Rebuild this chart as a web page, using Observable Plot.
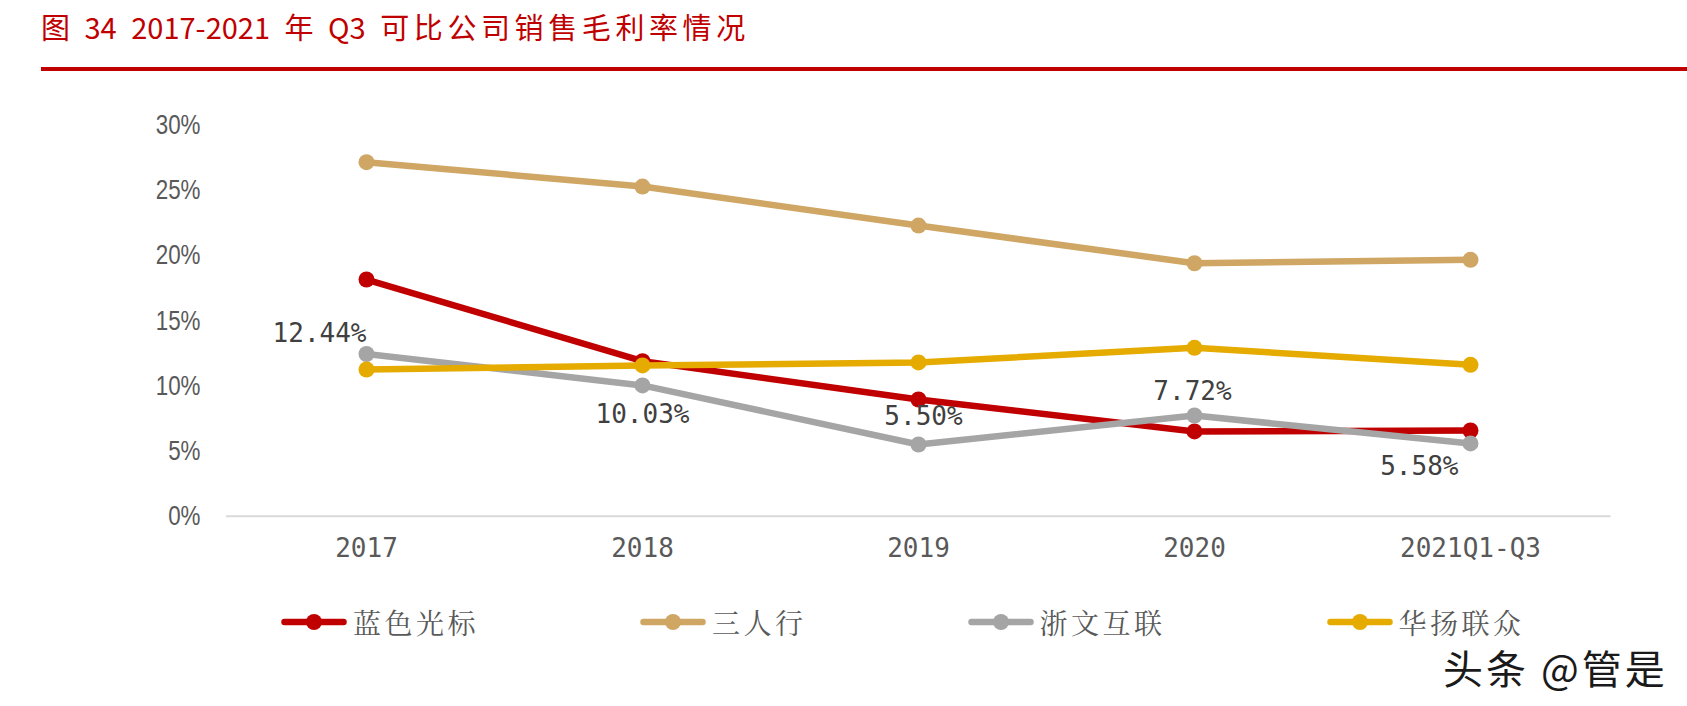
<!DOCTYPE html>
<html>
<head>
<meta charset="utf-8">
<script src="https://cdn.jsdelivr.net/npm/d3@7"></script>
<script src="https://cdn.jsdelivr.net/npm/@observablehq/plot@0.6"></script>
<style>
  html, body { margin: 0; padding: 0; background: #fff; }
  body { width: 1687px; height: 706px; overflow: hidden; position: relative; font-family: "Noto Sans CJK SC", sans-serif; }
  #chart { position: absolute; left: 0; top: 0; }
  #title { position: absolute; left: 41px; top: 12px; font-size: 29px; line-height: 1; color: #C00000; white-space: pre; word-spacing: 8px; }
  #title .cjk { letter-spacing: 4.6px; word-spacing: 0; }
  #rule { position: absolute; left: 41px; top: 67px; width: 1646px; height: 4px; background: #C00000; }
  #legend { position: absolute; left: 281px; top: 606px; display: flex; gap: 161px; align-items: center; }
  .item { display: flex; align-items: center; gap: 6px; }
  .item span { font-family: "Noto Serif CJK SC", "Noto Sans CJK SC", serif; font-size: 28px; letter-spacing: 3.5px; color: #595959; line-height: 32px; }
  #mark { position: absolute; left: 1443px; top: 643px; font-size: 40px; line-height: 1.2; color: #1a1a1a; letter-spacing: 3px; }
</style>
</head>
<body>
<div id="title"></div>
<div id="rule"></div>
<div id="chart"></div>
<div id="legend"></div>
<div id="mark">头条 @管是</div>
<script>
// ---- data ----
const titleParts = ["图", "34", "2017-2021", "年", "Q3", "可比公司销售毛利率情况"];
const categories = ["2017", "2018", "2019", "2020", "2021Q1-Q3"];
const seriesNames = ["蓝色光标", "三人行", "浙文互联", "华扬联众"];
const seriesColors = ["#C00000", "#CFA664", "#A5A5A5", "#E5AB00"];
const blueFocusValues = [18.15, 11.89, 8.95, 6.50, 6.57];   // 蓝色光标
const sanrenxingValues = [27.15, 25.28, 22.29, 19.40, 19.66]; // 三人行
const zhewenValues = [12.44, 10.03, 5.50, 7.72, 5.58];        // 浙文互联 (labelled)
const huayangValues = [11.25, 11.56, 11.79, 12.91, 11.61];    // 华扬联众
const yTicks = [0, 5, 10, 15, 20, 25, 30];

// ---- title ----
const titleEl = document.getElementById("title");
titleParts.forEach((p, i) => {
  const s = document.createElement("span");
  if (/[\u4e00-\u9fff]/.test(p) && p.length > 1) s.className = "cjk";
  s.textContent = p;
  titleEl.appendChild(s);
  if (i < titleParts.length - 1) titleEl.appendChild(document.createTextNode(" "));
});

// ---- tidy table ----
const seriesValues = [blueFocusValues, sanrenxingValues, zhewenValues, huayangValues];
const series = seriesNames.map((name, s) => ({
  name, color: seriesColors[s],
  rows: categories.map((c, i) => ({ cat: c, v: seriesValues[s][i], name }))
}));

// label placement for the labelled series (style, not data)
const labelPlacement = [
  { textAnchor: "end", dx: 0, dy: -20 },
  { textAnchor: "middle", dx: 0, dy: 29 },
  { textAnchor: "middle", dx: 5, dy: -28 },
  { textAnchor: "middle", dx: -2, dy: -24 },
  { textAnchor: "end", dx: -12, dy: 23 }
];
const labelRows = series[2].rows;

const marks = [Plot.ruleY([0], { stroke: "#D9D9D9", strokeWidth: 2 })];
series.forEach(s => {
  marks.push(Plot.line(s.rows, { x: "cat", y: "v", stroke: s.color, strokeWidth: 6.5, strokeLinejoin: "round", strokeLinecap: "round" }));
  marks.push(Plot.dot(s.rows, { x: "cat", y: "v", r: 8, fill: s.color, stroke: "none" }));
});
labelRows.forEach((d, i) => {
  marks.push(Plot.text([d], {
    x: "cat", y: "v", text: r => r.v.toFixed(2) + "%",
    fill: "#404040", ...labelPlacement[i]
  }));
});

const H = 706;
const chart = Plot.plot({
  width: 1687,
  height: H,
  marginLeft: 226,
  marginRight: 76.5,
  marginTop: 124.5,
  marginBottom: H - 515.7,
  x: { type: "point", domain: categories, padding: 0.5, label: null, tickSize: 0, tickPadding: 22 },
  y: { domain: [0, 30], ticks: yTicks, tickFormat: d => d + "%", label: null, tickSize: 0, tickPadding: 26 },
  style: { background: "transparent", overflow: "visible" },
  marks
});
document.getElementById("chart").appendChild(chart);

// ---- typography post-processing (condensed faces) ----
function styleTexts(selector, opts) {
  chart.querySelectorAll(selector).forEach(t => {
    t.style.fontFamily = opts.family;
    t.style.fontSize = opts.size + "px";
    t.setAttribute("fill", opts.fill);
    t.style.fill = opts.fill;
    const k = opts.k;
    if (k !== 1) {
      const x = t.getAttribute("x");
      if (x !== null && !isNaN(+x) && +x !== 0) t.setAttribute("x", +x / k);
      const tr = t.getAttribute("transform") || "";
      t.setAttribute("transform", (tr + ` scale(${k},1)`).trim());
    }
  });
}
styleTexts('[aria-label^="y-axis"] text', { family: '"Liberation Sans", Arial, sans-serif', size: 28, fill: "#595959", k: 0.8 });
styleTexts('[aria-label^="x-axis"] text', { family: '"DejaVu Sans Mono", monospace', size: 26, fill: "#595959", k: 1 });
styleTexts('[aria-label="text"] text', { family: '"DejaVu Sans Mono", monospace', size: 26, fill: "#404040", k: 1 });

// ---- legend ----
const legend = document.getElementById("legend");
seriesNames.forEach((name, i) => {
  const item = document.createElement("div");
  item.className = "item";
  const col = seriesColors[i];
  item.innerHTML = `<svg width="66" height="20" viewBox="0 0 66 20"><line x1="3.5" y1="10" x2="62.5" y2="10" stroke="${col}" stroke-width="6.5" stroke-linecap="round"/><circle cx="33" cy="10" r="8" fill="${col}"/></svg>`;
  const sp = document.createElement("span");
  sp.textContent = name;
  item.appendChild(sp);
  legend.appendChild(item);
});
</script>
</body>
</html>
